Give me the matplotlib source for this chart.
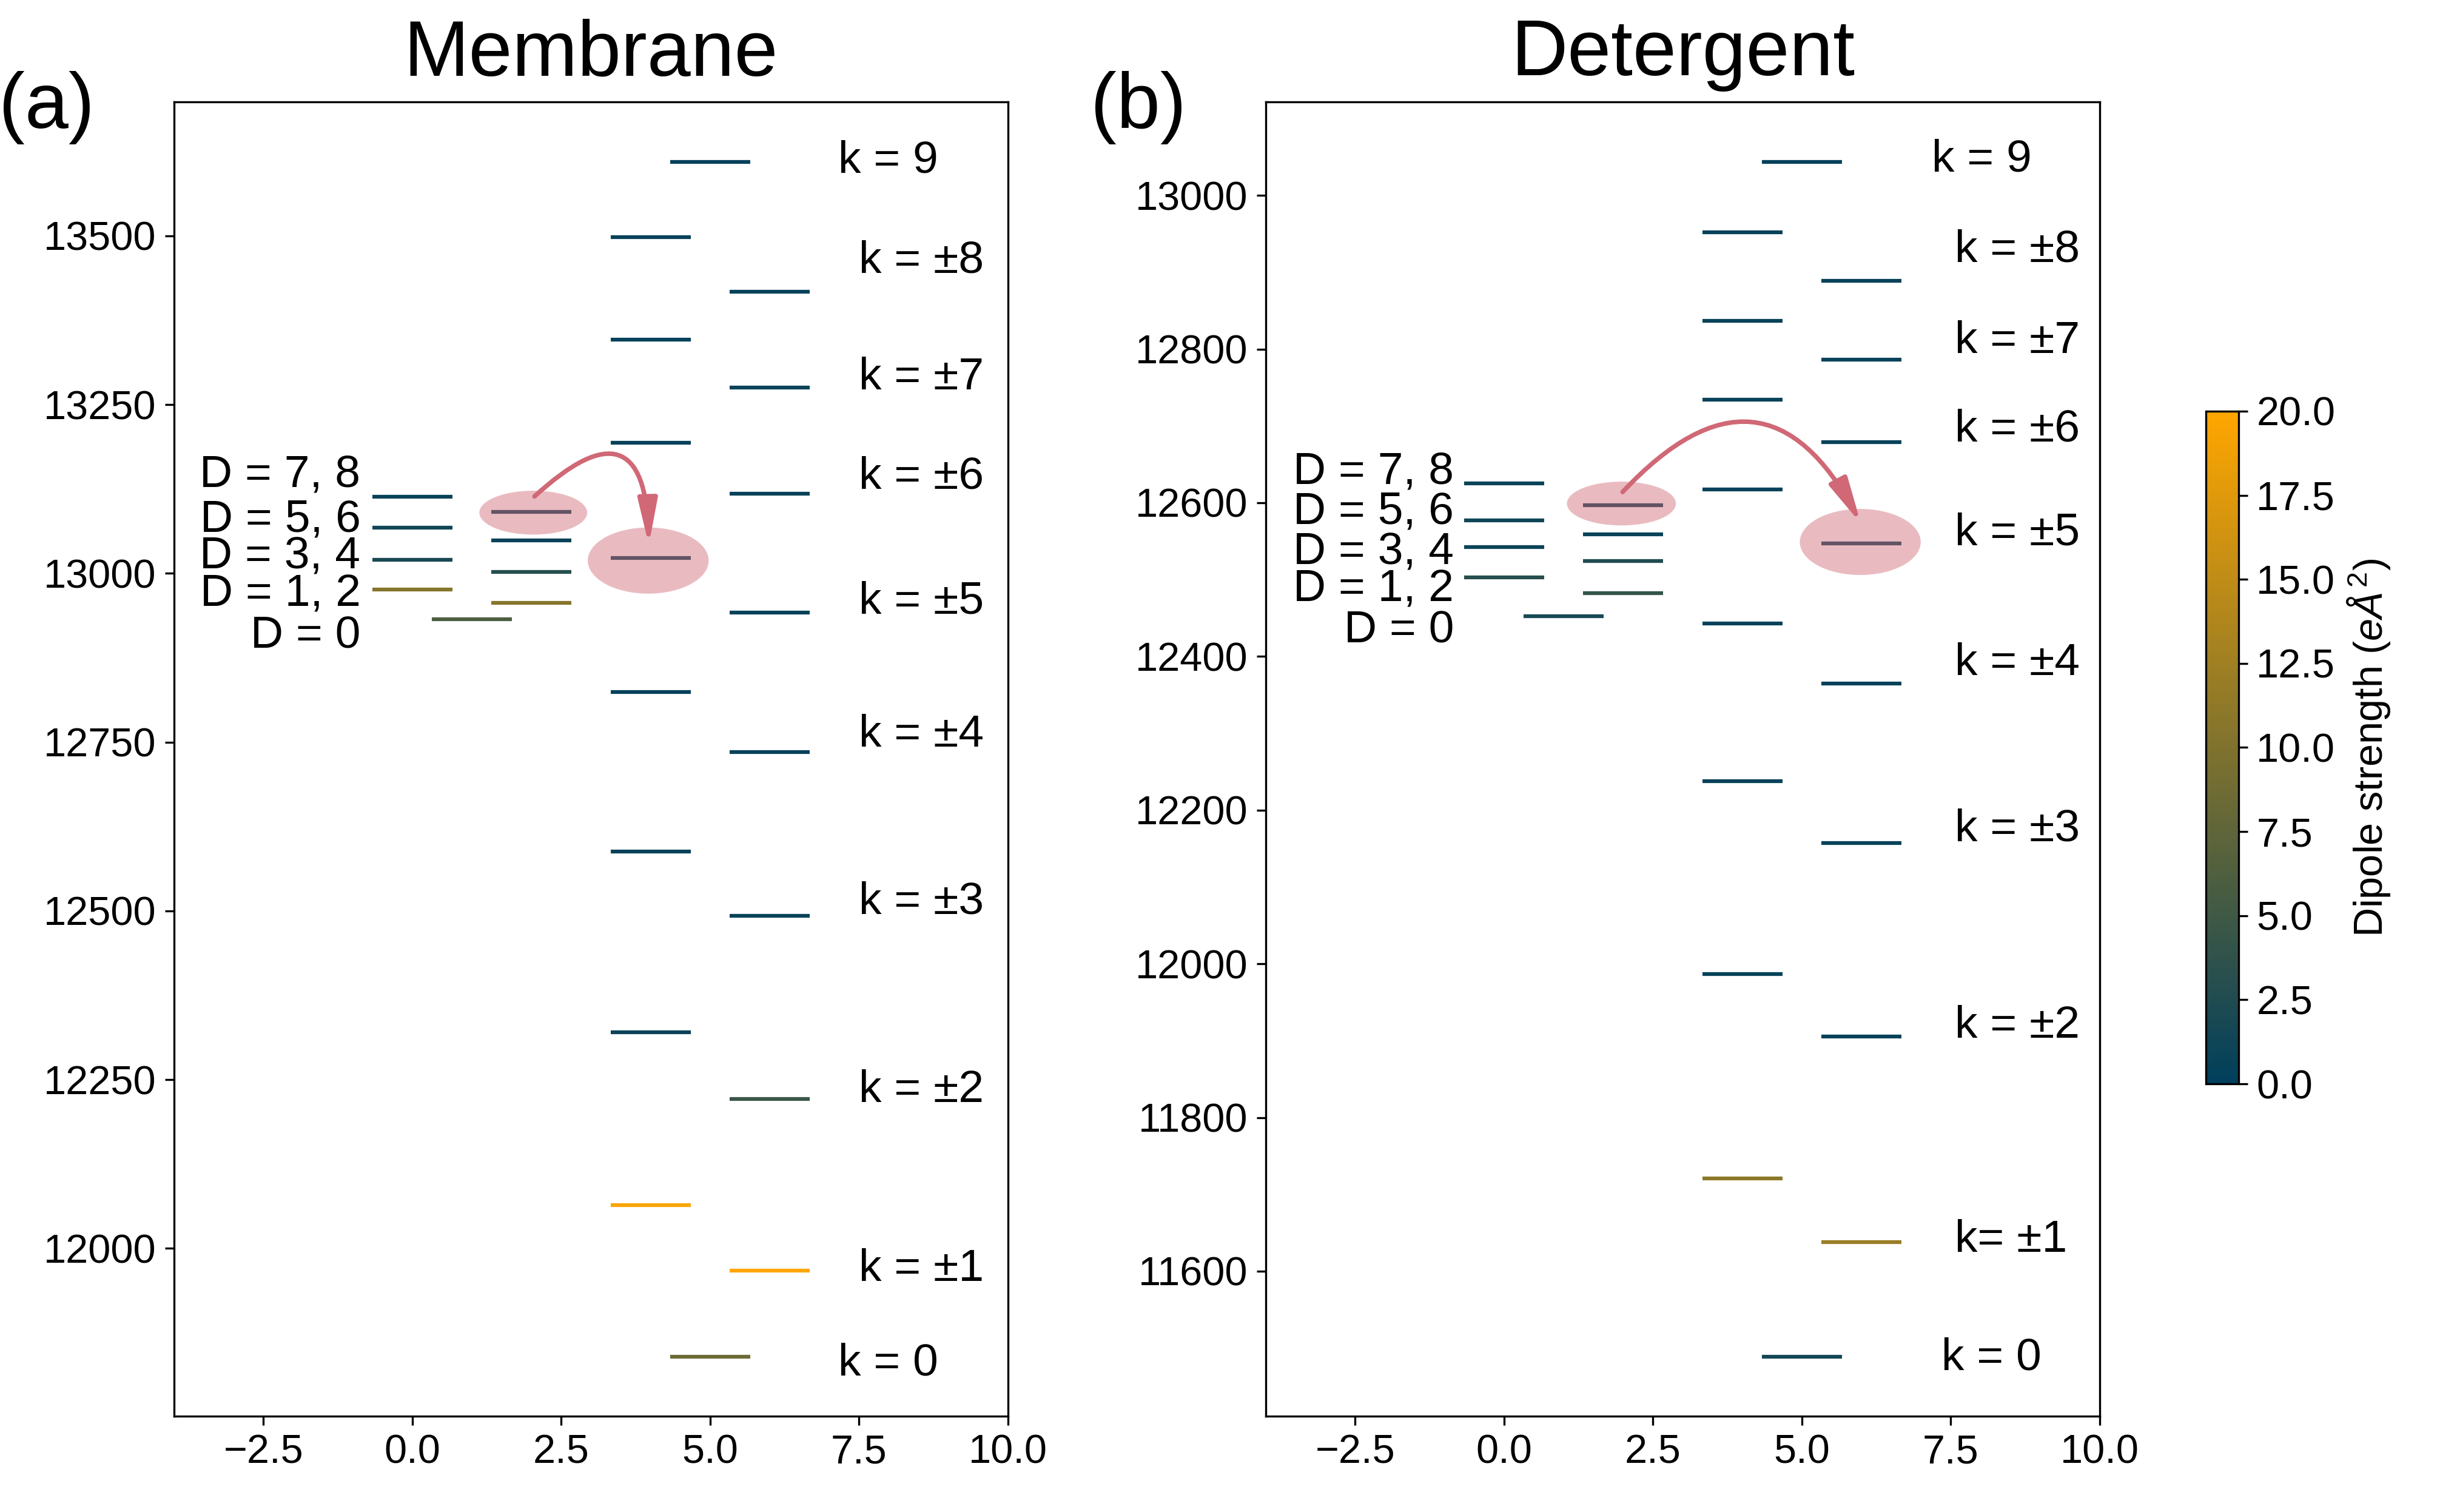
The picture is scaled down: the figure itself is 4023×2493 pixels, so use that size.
import numpy as np
import matplotlib
matplotlib.use("Agg")
import matplotlib.pyplot as plt
from matplotlib.colors import LinearSegmentedColormap, Normalize
from matplotlib.patches import Ellipse, FancyArrowPatch
from matplotlib.cm import ScalarMappable

plt.rcParams['font.family'] = ['Liberation Sans', 'DejaVu Sans']
plt.rcParams['mathtext.fontset'] = 'custom'
plt.rcParams['mathtext.rm'] = 'Liberation Sans'
plt.rcParams['mathtext.it'] = 'Liberation Sans:italic'

# energy levels (cm-1), column position and dipole strength (e A^2)
mem_x = [0, 0, 0, 0, 1, 2, 2, 2, 2,
         4, 4, 4, 4, 4, 4, 4, 4, 5, 5,
         6, 6, 6, 6, 6, 6, 6, 6]
mem_E = [13114, 13068, 13020, 12976, 12932, 13091, 13049, 13002, 12956,
         13498, 13346, 13194, 13023, 12824, 12588, 12320, 12064, 13610, 11840,
         13417, 13275, 13118, 12942, 12735, 12493, 12221, 11967]
mem_dip = [0.6, 1.4, 2.0, 10.5, 6.0, 0.8, 0.8, 3.0, 10.5,
           0.5, 0.5, 0.5, 0.8, 0.5, 0.6, 0.8, 19.5, 0.5, 8.5,
           0.5, 0.8, 0.6, 0.6, 0.6, 0.8, 4.5, 20.0]

det_x = [0, 0, 0, 0, 1, 2, 2, 2, 2,
         4, 4, 4, 4, 4, 4, 4, 4, 5, 5,
         6, 6, 6, 6, 6, 6, 6, 6]
det_E = [12625, 12577, 12542, 12503, 12452, 12597, 12559, 12524, 12482,
         12952, 12837, 12734, 12617, 12443, 12238, 11987, 11721, 13044, 11489,
         12889, 12786, 12679, 12547, 12365, 12157, 11905, 11638]
det_dip = [0.8, 1.2, 1.0, 3.0, 2.0, 0.8, 0.8, 2.5, 4.0,
           0.5, 0.6, 0.6, 0.5, 0.6, 0.6, 0.6, 11.0, 0.5, 1.5,
           0.6, 0.6, 0.6, 0.8, 0.5, 0.6, 0.6, 12.0]

# labels
mem_k_labels = ['k = 9', 'k = ±8', 'k = ±7', 'k = ±6', 'k = ±5',
                'k = ±4', 'k = ±3', 'k = ±2', 'k = ±1', 'k = 0']
mem_k_label_E = [13594, 13446, 13273, 13126, 12941, 12743, 12496, 12217, 11952, 11812]
mem_k_label_x = [7.15, 7.5, 7.5, 7.5, 7.5, 7.5, 7.5, 7.5, 7.5, 7.15]

det_k_labels = ['k = 9', 'k = ±8', 'k = ±7', 'k = ±6', 'k = ±5',
                'k = ±4', 'k = ±3', 'k = ±2', 'k= ±1', 'k = 0']
det_k_label_E = [13031, 12914, 12795, 12680, 12545, 12376, 12160, 11904, 11625, 11472]
det_k_label_x = [7.18, 7.57, 7.57, 7.57, 7.57, 7.57, 7.57, 7.57, 7.57, 7.34]

D_labels = ['D = 7, 8', 'D = 5, 6', 'D = 3, 4', 'D = 1, 2', 'D = 0']
mem_D_label_E = [13128, 13062, 13007, 12951, 12889]
det_D_label_E = [12625, 12573, 12520, 12472, 12418]

# highlighted levels (x, E, width, height) and transfer arrows
mem_ellipses = [(2.03, 13090, 1.81, 65), (3.96, 13019, 2.03, 98)]
det_ellipses = [(1.97, 12599, 1.83, 57), (5.98, 12549, 2.03, 86)]
mem_arrow = [(2.05, 13114), (3.97, 13042)]
det_arrow = [(1.99, 12614), (5.99, 12573)]

cmap = LinearSegmentedColormap.from_list('dip', ['#003f5c', '#ffa600'])
norm = Normalize(vmin=0, vmax=20)

W, H = 4023, 2493
fig = plt.figure(figsize=(W / 300, H / 300), dpi=300)


def draw_panel(ax, xs, Es, dips, k_labels, k_E, k_x, D_E, D_x,
               ellipses, arrow, rad, title, tag):
    for x, e, d in zip(xs, Es, dips):
        ax.plot([x - 0.67, x + 0.67], [e, e], color=cmap(norm(d)), lw=1.5,
                solid_capstyle='butt', zorder=2)
    for cx, cy, w, h in ellipses:
        ax.add_patch(Ellipse((cx, cy), w, h, facecolor='#d06876',
                             edgecolor='none', alpha=0.45, zorder=3))
    arr = FancyArrowPatch(arrow[0], arrow[1],
                          connectionstyle='arc3,rad=%s' % rad,
                          arrowstyle='-|>,head_length=0.75,head_width=0.16',
                          mutation_scale=20, color='#d06876', lw=1.8,
                          shrinkA=0, shrinkB=0, zorder=4)
    ax.add_artist(arr)
    for lab, e, x in zip(k_labels, k_E, k_x):
        ax.text(x, e, lab, fontsize=18, ha='left', va='baseline')
    for lab, e in zip(D_labels, D_E):
        ax.text(D_x, e, lab, fontsize=18, ha='right', va='baseline')
    ax.set_xlim(-4, 10)
    ax.set_xticks([-2.5, 0, 2.5, 5, 7.5, 10])
    ax.tick_params(labelsize=16)
    ax.set_title(title, fontsize=31, pad=10.5)
    ax.text(-0.21, 0.98, tag, fontsize=31, ha='left', va='baseline',
            transform=ax.transAxes)


ax1 = fig.add_axes([287 / W, 1 - 2335 / H, 1375 / W, 2167 / H])
ax2 = fig.add_axes([2087 / W, 1 - 2335 / H, 1375 / W, 2167 / H])

draw_panel(ax1, mem_x, mem_E, mem_dip, mem_k_labels, mem_k_label_E, mem_k_label_x,
           mem_D_label_E, -0.87, mem_ellipses, mem_arrow, -1.1, 'Membrane', '(a)')
draw_panel(ax2, det_x, det_E, det_dip, det_k_labels, det_k_label_E, det_k_label_x,
           det_D_label_E, -0.84, det_ellipses, det_arrow, -0.7, 'Detergent', '(b)')
ax1.set_yticks([12000, 12250, 12500, 12750, 13000, 13250, 13500])
ax2.set_yticks([11600, 11800, 12000, 12200, 12400, 12600, 12800, 13000])

cax = fig.add_axes([3637 / W, 1 - 1787 / H, 54 / W, 1109 / H])
sm = ScalarMappable(norm=norm, cmap=cmap)
cb = fig.colorbar(sm, cax=cax, ticks=np.arange(0, 20.1, 2.5))
cb.ax.tick_params(labelsize=16)
cb.set_label(r'Dipole strength ($e\AA^2$)', fontsize=16)

fig.savefig('out.png', dpi=300)
